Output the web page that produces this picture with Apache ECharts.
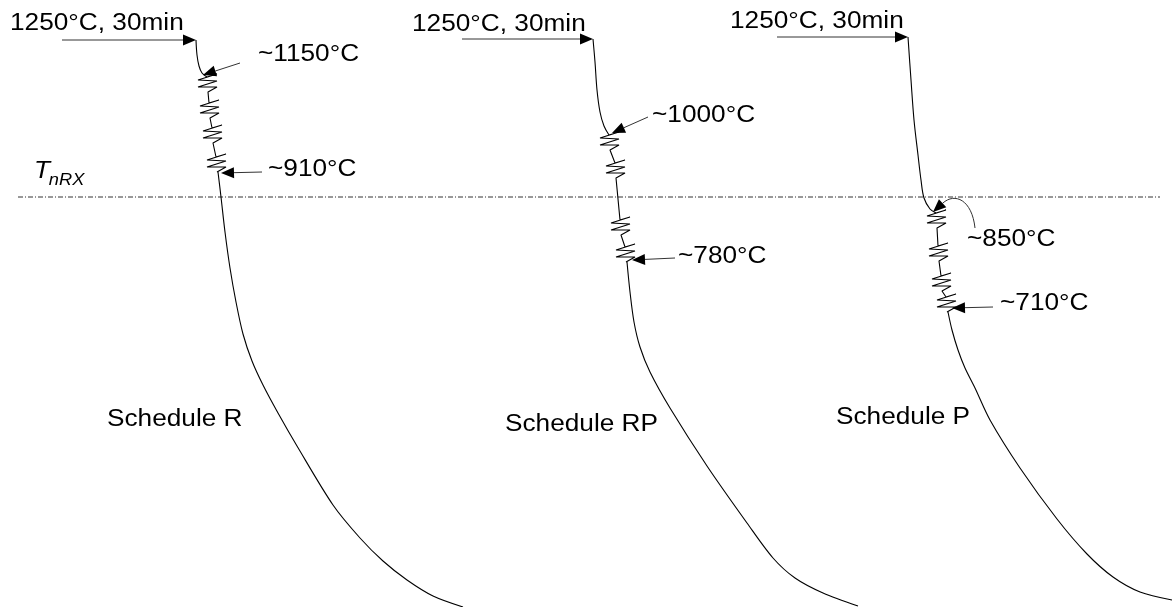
<!DOCTYPE html>
<html>
<head>
<meta charset="utf-8">
<script src="https://cdn.jsdelivr.net/npm/echarts@6/dist/echarts.min.js"></script>
<style>
  html, body { margin: 0; padding: 0; background: #ffffff; }
  #chart { width: 1173px; height: 607px; }
</style>
</head>
<body>
<div id="chart"></div>
<script>
// Schematic thermomechanical schedules. x = process time (arbitrary units),
// y = temperature level drawn top-down (schematic, not to scale).

// T_nRX reference level
const tnrxLine = [[18, 197], [1160, 197]];

// Schedule R: reheat drop, rolling passes, final cooling
const reheatR = [[196, 40], [197, 55], [199, 66], [202, 73], [207, 77]];
const passesR = [[207, 77], [209, 103], [212, 128], [216, 157]];
const coolR = [[218, 172], [221, 197], [225, 232], [230, 268], [236, 302], [243, 334],
               [252, 361], [263, 385], [278, 413], [297, 446], [333, 505], [360, 538],
               [383, 561], [407, 580], [433, 596], [463, 607]];

// Schedule RP
const reheatRP = [[593, 39], [595, 62], [597, 90], [600, 112], [604, 126], [609, 135]];
const passesRP = [[609, 135], [615, 163], [620, 220], [625, 247]];
const coolRP = [[627, 262], [630, 292], [634, 322], [640, 347], [650, 372], [670, 408],
                [707, 466], [747, 523], [773, 558], [795, 578], [823, 593], [858, 606]];

// Schedule P
const reheatP = [[908, 37], [911, 80], [914, 120], [918, 155], [921, 180], [924, 198],
                 [930, 209], [936, 213]];
const passesP = [[936, 213], [938, 246], [941, 276], [946, 297]];
const coolP = [[948, 312], [952, 330], [958, 350], [965, 368], [975, 388], [990, 420],
               [1020, 468], [1057, 519], [1087, 554], [1113, 577], [1140, 592], [1172, 600]];

// Zig-zag glyph for one rolling pass (offsets from the top of the pass)
const passGlyph = [[0, 0], [10, -3], [-9, 3], [10, 4], [-9, 10], [10, 10], [1, 15]];

// Straight leader arrows: [fromX, fromY, tipX, tipY]
const soakArrows = [[62, 40, 196, 40], [462, 39, 593, 39], [777, 37, 908, 37]];
const tempArrows = [[240, 63, 203, 75], [262, 172, 221, 173], [648, 117, 612, 133],
                    [675, 258, 632, 260], [993, 307, 952, 308]];
// Curved leader: [fromX, fromY, c1x, c1y, c2x, c2y, tipX, tipY]
const curvedArrows = [[975, 228, 972, 200, 955, 192, 933, 212]];

// Text labels: [leftX, centreY, text]
const labels = [
  [10, 24, '1250°C, 30min'], [412, 25, '1250°C, 30min'], [730, 22, '1250°C, 30min'],
  [258, 55, '~1150°C'], [268, 170, '~910°C'],
  [652, 116, '~1000°C'], [678, 257, '~780°C'],
  [967, 240, '~850°C'], [1000, 304, '~710°C'],
  [107, 420, 'Schedule R'], [505, 425, 'Schedule RP'], [836, 418, 'Schedule P']
];
const tnrxLabel = [[34, 172, 'T', 'nRX']];

function expandPasses(starts) {
  const pts = [];
  starts.forEach(s => passGlyph.forEach(o => pts.push([s[0] + o[0], s[1] + o[1]])));
  return pts;
}

const FONT = '"Liberation Sans", Arial, sans-serif';
const STRETCH = 1.14;
const INK = '#000000';

function curve(data, smooth) {
  return {
    type: 'line', data: data, smooth: smooth, symbol: 'none', silent: true,
    lineStyle: { color: INK, width: 1.1 }, z: 3
  };
}

function headPoints(tip, from, len, half) {
  const dx = tip[0] - from[0], dy = tip[1] - from[1];
  const d = Math.hypot(dx, dy) || 1;
  const ux = dx / d, uy = dy / d;
  const bx = tip[0] - ux * len, by = tip[1] - uy * len;
  return { base: [bx, by], poly: [[tip[0], tip[1]], [bx - uy * half, by + ux * half], [bx + uy * half, by - ux * half]] };
}

const chart = echarts.init(document.getElementById('chart'), null, { renderer: 'canvas' });

chart.setOption({
  animation: false,
  backgroundColor: '#ffffff',
  grid: { left: 0, right: 0, top: 0, bottom: 0 },
  xAxis: { type: 'value', min: 0, max: 1173, show: false },
  yAxis: { type: 'value', min: 0, max: 607, inverse: true, show: false },
  series: [
    {
      type: 'line', data: tnrxLine, symbol: 'none', silent: true, z: 1,
      lineStyle: { color: '#333333', width: 1, type: [5, 2, 1, 2] }
    },
    curve(reheatR, 0.35), curve(expandPasses(passesR), false), curve(coolR, 0.3),
    curve(reheatRP, 0.35), curve(expandPasses(passesRP), false), curve(coolRP, 0.3),
    curve(reheatP, 0.35), curve(expandPasses(passesP), false), curve(coolP, 0.3),
    {
      type: 'custom', silent: true, clip: false, z: 4,
      data: soakArrows.concat(tempArrows),
      encode: { x: [0, 2], y: [1, 3] },
      renderItem: function (params, api) {
        const a = api.coord([api.value(0), api.value(1)]);
        const b = api.coord([api.value(2), api.value(3)]);
        const h = headPoints(b, a, 13, 5.5);
        return {
          type: 'group',
          children: [
            { type: 'line', shape: { x1: a[0], y1: a[1], x2: h.base[0], y2: h.base[1] },
              style: { stroke: '#333333', lineWidth: 1 } },
            { type: 'polygon', shape: { points: h.poly }, style: { fill: INK } }
          ]
        };
      }
    },
    {
      type: 'custom', silent: true, clip: false, z: 4,
      data: curvedArrows,
      encode: { x: [0, 6], y: [1, 7] },
      renderItem: function (params, api) {
        const a = api.coord([api.value(0), api.value(1)]);
        const c1 = api.coord([api.value(2), api.value(3)]);
        const c2 = api.coord([api.value(4), api.value(5)]);
        const b = api.coord([api.value(6), api.value(7)]);
        const h = headPoints(b, c2, 13, 5.5);
        return {
          type: 'group',
          children: [
            { type: 'bezierCurve',
              shape: { x1: a[0], y1: a[1], cpx1: c1[0], cpy1: c1[1], cpx2: c2[0], cpy2: c2[1], x2: h.base[0], y2: h.base[1] },
              style: { stroke: '#333333', lineWidth: 1, fill: null } },
            { type: 'polygon', shape: { points: h.poly }, style: { fill: INK } }
          ]
        };
      }
    },
    {
      type: 'custom', silent: true, clip: false, z: 5,
      data: labels.map(l => [l[0], l[1]]),
      encode: { x: 0, y: 1 },
      renderItem: function (params, api) {
        const p = api.coord([api.value(0), api.value(1)]);
        return {
          type: 'text', x: p[0], y: p[1], scaleX: STRETCH,
          style: {
            text: labels[params.dataIndex][2], fill: INK,
            font: '23px ' + FONT, align: 'left', verticalAlign: 'middle'
          }
        };
      }
    },
    {
      type: 'custom', silent: true, clip: false, z: 5,
      data: tnrxLabel.map(l => [l[0], l[1]]),
      encode: { x: 0, y: 1 },
      renderItem: function (params, api) {
        const p = api.coord([api.value(0), api.value(1)]);
        const item = tnrxLabel[params.dataIndex];
        return {
          type: 'group', x: p[0], y: p[1], scaleX: STRETCH,
          children: [
            { type: 'text', x: 0, y: 0,
              style: { text: item[2], fill: INK, font: 'italic 23px ' + FONT, align: 'left', verticalAlign: 'middle' } },
            { type: 'text', x: 13, y: 9,
              style: { text: item[3], fill: INK, font: 'italic 16px ' + FONT, align: 'left', verticalAlign: 'middle' } }
          ]
        };
      }
    }
  ]
});
</script>
</body>
</html>
